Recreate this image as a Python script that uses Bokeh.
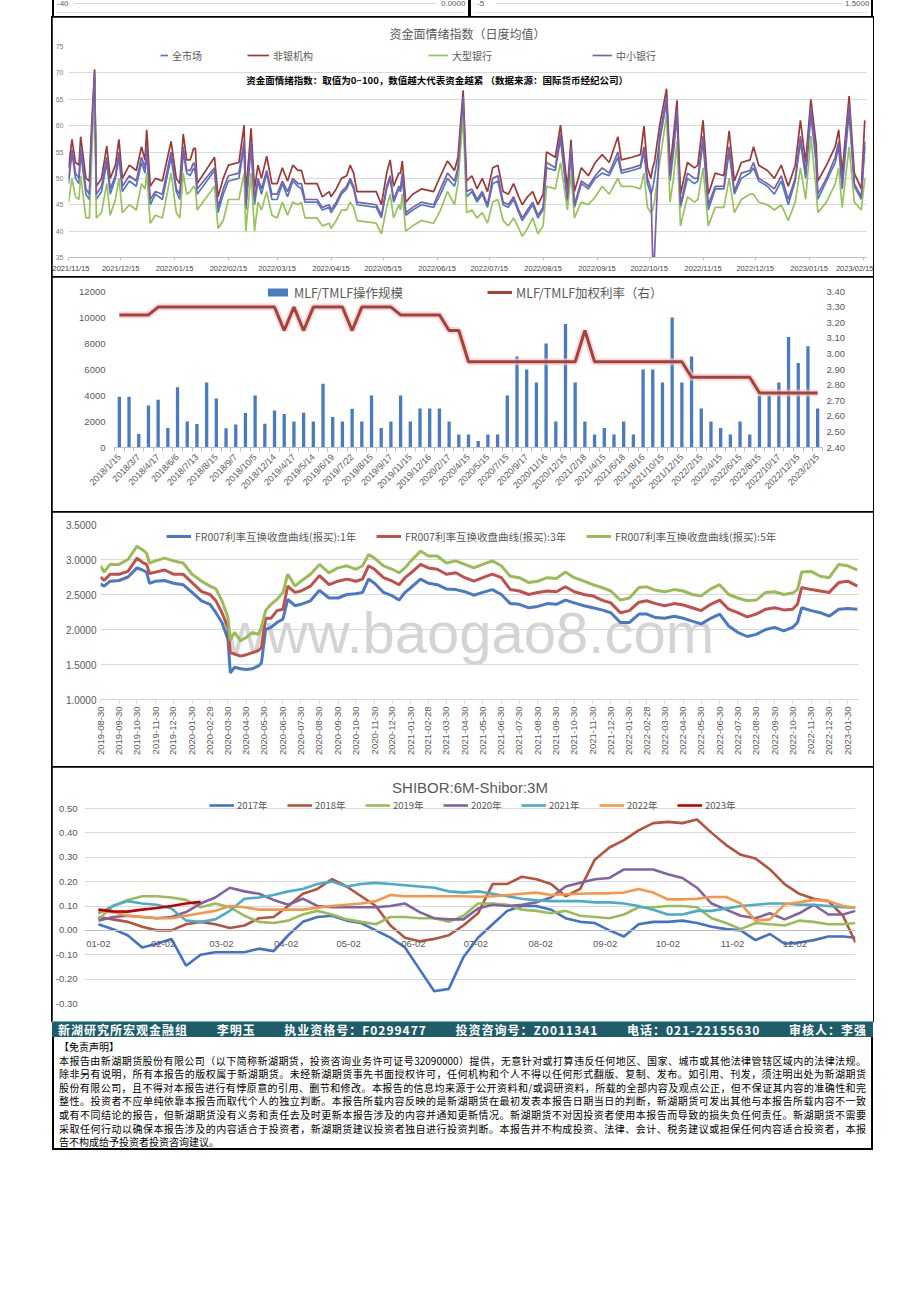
import math
import pandas as pd
from bokeh.plotting import figure
from bokeh.models import (Range1d, LinearAxis, FixedTicker, Legend, LegendItem, Label, Div, Spacer,
                          DatetimeTickFormatter, NumeralTickFormatter)
from bokeh.layouts import column, row
from bokeh.embed import file_html
from bokeh.resources import INLINE

# ---------------------------------------------------------------- panel 1 data
SENT_TITLE = "资金面情绪指数（日度均值）"
SENT_NOTE = "资金面情绪指数：取值为0~100，数值越大代表资金越紧 （数据来源：国际货币经纪公司）"
SENT_NAMES = ["全市场", "非银机构", "大型银行", "中小银行"]
SENT_START = "2021-11-15"
SENT_DAY = [0, 2, 4, 6, 7, 10, 12, 13, 15, 16,
            19, 22, 24, 27, 29, 31, 35, 39, 42, 44,
            45, 47, 50, 54, 59, 62, 64, 66, 68, 70,
            72, 73, 74, 84, 86, 89, 92, 98, 101, 102,
            105, 107, 109, 111, 114, 117, 120, 123, 126, 129,
            132, 134, 136, 143, 146, 150, 151, 154, 157, 160,
            162, 164, 166, 177, 180, 183, 185, 187, 190, 191,
            192, 194, 198, 203, 210, 214, 218, 222, 224, 227,
            229, 232, 235, 238, 241, 244, 247, 250, 253, 256,
            259, 261, 264, 267, 270, 273, 275, 280, 283, 287,
            289, 291, 295, 299, 303, 307, 311, 316, 318, 324,
            329, 331, 333, 335, 336, 337, 340, 344, 346, 348,
            350, 352, 356, 360, 362, 365, 368, 372, 377, 380,
            383, 387, 392, 394, 397, 402, 406, 410, 414, 418,
            421, 424, 427, 430, 431, 436, 441, 443, 445, 449,
            452, 456, 458]
SENT_NONBANK = [52, 57.4, 53, 52.5, 57.9, 50, 49.5, 58, 70.7, 48.5,
                50, 56.1, 50, 52.5, 57.4, 50, 52.5, 51.5, 56, 53.5,
                59.2, 48.5, 50, 49.5, 57, 50, 49, 58.4, 53.5, 53.5,
                55.7, 55.7, 49, 54, 46.5, 50, 52.5, 53, 60.1, 47,
                59.5, 48, 52.5, 50, 54.2, 49, 49, 52, 49.5, 52.5,
                51.5, 51.5, 49, 49, 46.5, 47.5, 46.5, 48, 50, 50.5,
                52.5, 51, 47.5, 47.5, 45, 51, 53.5, 48.5, 51, 51,
                53.3, 45.5, 47, 48, 47.5, 50.5, 53.3, 51.5, 54, 66.7,
                49.5, 50.5, 48, 50, 47.5, 52, 52.5, 47.5, 47, 49,
                46.5, 45, 46.5, 47.5, 45, 47, 55, 54, 60.1, 48,
                57.3, 47.5, 52, 50.5, 53, 54.5, 53, 57.9, 53.5, 54,
                54.5, 59.9, 52, 50, 52, 53, 60, 67, 52, 58,
                64.8, 47, 53, 52, 52.5, 61, 47, 51, 50.5, 59,
                49.5, 53, 53.5, 56, 52.5, 51.5, 50, 52.5, 48.5, 52.5,
                61, 53, 65, 56.6, 49.5, 52.5, 56, 59.2, 51, 65.6,
                51, 48, 61]
SENT_ALL = [49, 55, 50, 49, 55, 47, 46, 55, 69, 46,
            47.5, 53, 47, 50, 54, 47.5, 49.5, 48.5, 53, 51,
            55, 45, 47, 46, 54, 47.5, 46, 55, 51, 50.5,
            52, 51, 47, 51.5, 43.5, 47, 49.5, 50, 56, 44,
            56, 45, 49.5, 47, 51, 46, 46, 49, 46.5, 49.5,
            48.5, 48, 45.5, 45.5, 44, 44.5, 43.5, 45, 47, 48,
            49.5, 48, 45, 44.5, 42.5, 48, 50, 45.5, 48, 47.5,
            50.5, 43, 44, 45, 44.5, 47, 50, 48.5, 51, 64,
            46.5, 47.5, 45.5, 47, 44.5, 49, 49.5, 45, 44.5, 46,
            43.5, 42, 43.5, 45, 42.5, 44, 52, 51.5, 57.5, 45.5,
            55, 44.5, 49, 48, 50, 51, 50.5, 54, 51, 51.5,
            52, 55, 49, 47, 48, 50, 57, 64.5, 49.5, 55,
            62, 44.5, 50, 49, 49.5, 57, 44, 48, 48, 55,
            47, 50, 51, 52, 49.5, 48.5, 47, 49.5, 45, 49.5,
            57, 50, 62, 53, 46, 49.5, 53, 56, 48, 62.5,
            48.5, 46, 56]
SENT_SMALL = [50, 55.5, 51, 50, 56, 48, 47, 56, 70, 47,
              48.5, 54, 48, 50.5, 55, 48.5, 50.5, 49.5, 54, 52,
              56, 46, 47.5, 47, 55, 48, 47, 56, 51.5, 51.5,
              53, 52, 48, 52, 44.5, 48, 50.5, 51, 57, 45,
              57, 46, 50, 48, 51.5, 47, 47, 49.5, 47.5, 50,
              49, 49, 46, 46, 44.5, 45, 44, 45.5, 47.5, 48.5,
              50, 48.5, 45.5, 45, 43, 48.5, 50.5, 46, 48.5, 48,
              51, 43.5, 44.5, 45.5, 45, 48, 51, 49.5, 52, 65.5,
              47.5, 48, 46, 47.5, 45, 50, 50.5, 45.5, 45, 46.5,
              44, 42.5, 44, 45.5, 43, 44.5, 53, 52, 58.5, 46,
              56, 45, 49.5, 48.5, 50.5, 52, 51, 55, 51.5, 52,
              52.5, 56, 50, 48, 35, 35, 58, 65.5, 50.5, 56,
              63, 45, 51, 50, 50, 58, 45, 48.5, 48.5, 56,
              47.5, 51, 51.5, 53, 50, 49, 48, 50.5, 46, 50,
              58, 51, 63.5, 54, 47, 50, 54, 57, 49, 64,
              49, 46.5, 57]
SENT_LARGE = [45.5, 50, 46.5, 46, 50.5, 42.5, 42.5, 51, 68, 42.5,
              43.5, 49, 43, 46, 50, 43.5, 45, 44, 49, 48,
              51, 41.5, 43, 42.5, 51, 43.5, 42.5, 51, 47, 47.5,
              48.5, 48, 44, 48.5, 40.5, 42, 46, 46, 51, 40,
              51, 40, 45.5, 44, 47.5, 43, 42.5, 45.5, 43, 45.5,
              45, 45.5, 42.5, 42.5, 41, 41.5, 40.5, 42, 44, 44,
              45.5, 44.5, 42, 41.5, 39.5, 44.5, 47, 42.5, 45, 44,
              47, 40, 41, 42, 41.5, 44, 47.5, 45, 49, 62,
              43.5, 44, 42.5, 43.5, 41.5, 45.5, 46, 42, 41, 42.5,
              40.5, 39, 40.5, 42.5, 39.5, 41, 48.5, 48, 53, 44,
              51, 42.5, 45.5, 45, 46.5, 48.5, 47, 50, 48.5, 48.5,
              48, 51, 44.5, 43.5, 44, 45.5, 53, 62, 45.5, 50,
              57, 41, 46.5, 45.5, 46, 52, 41, 44.5, 44.5, 50,
              43.5, 46, 47, 47, 45.5, 45, 44, 45, 42, 45.5,
              52, 46, 58, 48, 43.5, 45.5, 49, 52, 44.5, 56,
              45.5, 44, 50]
SENT_XTICKS = ["2021/11/15", "2021/12/15", "2022/01/15", "2022/02/15", "2022/03/15", "2022/04/15",
               "2022/05/15", "2022/06/15", "2022/07/15", "2022/08/15", "2022/09/15", "2022/10/15",
               "2022/11/15", "2022/12/15", "2023/01/15", "2023/02/15"]
SENT_YTICKS = [35, 40, 45, 50, 55, 60, 65, 70, 75]

# ---------------------------------------------------------------- panel 2 data
MLF_NAMES = ["MLF/TMLF操作规模", "MLF/TMLF加权利率（右）"]
MLF_DATES = ["2018/1/15", "2018/2/12", "2018/3/7", "2018/3/15", "2018/4/17", "2018/5/17", "2018/6/6",
             "2018/6/19", "2018/7/13", "2018/8/7", "2018/8/15", "2018/8/22", "2018/9/7", "2018/9/19",
             "2018/10/5", "2018/11/9", "2018/12/14", "2019/1/23", "2019/4/17", "2019/4/24", "2019/5/14",
             "2019/6/6", "2019/6/19", "2019/7/15", "2019/7/22", "2019/8/5", "2019/8/15", "2019/9/5",
             "2019/9/17", "2019/11/5", "2019/11/15", "2019/12/2", "2019/12/16", "2020/1/15", "2020/2/17",
             "2020/3/16", "2020/4/15", "2020/4/24", "2020/5/15", "2020/6/15", "2020/7/15", "2020/8/17",
             "2020/9/17", "2020/10/15", "2020/11/16", "2020/11/30", "2020/12/15", "2021/1/15",
             "2021/2/18", "2021/3/15", "2021/4/15", "2021/5/17", "2021/6/18", "2021/7/15", "2021/8/16",
             "2021/9/15", "2021/10/15", "2021/11/15", "2021/12/15", "2022/1/17", "2022/2/15",
             "2022/3/15", "2022/4/15", "2022/5/16", "2022/6/15", "2022/7/15", "2022/8/15", "2022/9/15",
             "2022/10/17", "2022/11/15", "2022/12/15", "2023/1/16", "2023/2/15"]
MLF_VOLUME = [3900, 3900, 1040, 3225, 3675, 1500, 4630, 2000, 1800, 5000, 3765, 1490, 1765, 2650,
              4000, 1835, 2845, 2575, 2000, 2674, 2000, 4900, 2350, 2000, 2977, 2000, 4000, 1500,
              2000, 4000, 2000, 3000, 3000, 3000, 2000, 1000, 1000, 500, 1000, 1000, 4000, 7000,
              6000, 5000, 8000, 2000, 9500, 5000, 2000, 1000, 1500, 1000, 2000, 1000, 6000, 6000,
              5000, 10000, 5000, 7000, 3000, 2000, 1500, 1000, 2000, 1000, 4000, 4000, 5000, 8500,
              6500, 7790, 3000]
MLF_RATE = [3.25, 3.25, 3.25, 3.25, 3.30, 3.30, 3.30, 3.30, 3.30, 3.30, 3.30, 3.30, 3.30, 3.30,
            3.30, 3.30, 3.30, 3.15, 3.30, 3.15, 3.30, 3.30, 3.30, 3.30, 3.15, 3.30, 3.30, 3.30,
            3.30, 3.25, 3.25, 3.25, 3.25, 3.25, 3.15, 3.15, 2.95, 2.95, 2.95, 2.95, 2.95, 2.95,
            2.95, 2.95, 2.95, 2.95, 2.95, 2.95, 3.15, 2.95, 2.95, 2.95, 2.95, 2.95, 2.95, 2.95,
            2.95, 2.95, 2.95, 2.85, 2.85, 2.85, 2.85, 2.85, 2.85, 2.85, 2.75, 2.75, 2.75, 2.75,
            2.75, 2.75, 2.75]
MLF_LEFT_TICKS = [0, 2000, 4000, 6000, 8000, 10000, 12000]
MLF_RIGHT_TICKS = [2.40, 2.50, 2.60, 2.70, 2.80, 2.90, 3.00, 3.10, 3.20, 3.30, 3.40]

# ---------------------------------------------------------------- panel 3 data
FR_NAMES = ["FR007利率互换收盘曲线(报买):1年", "FR007利率互换收盘曲线(报买):3年", "FR007利率互换收盘曲线(报买):5年"]
FR_DATES = ["2019-08-30", "2019-09-05", "2019-09-15", "2019-09-30", "2019-10-15", "2019-10-30",
            "2019-11-08", "2019-11-15", "2019-11-20", "2019-11-30", "2019-12-15", "2019-12-30",
            "2020-01-15", "2020-01-30", "2020-02-15", "2020-02-29", "2020-03-10", "2020-03-20",
            "2020-03-30", "2020-04-03", "2020-04-10", "2020-04-20", "2020-04-30", "2020-05-10",
            "2020-05-20", "2020-05-25", "2020-06-01", "2020-06-10", "2020-06-20", "2020-06-30",
            "2020-07-08", "2020-07-20", "2020-07-30", "2020-08-15", "2020-08-30", "2020-09-15",
            "2020-09-30", "2020-10-15", "2020-10-30", "2020-11-10", "2020-11-20", "2020-11-30",
            "2020-12-15", "2020-12-30",
            "2021-01-10", "2021-01-20", "2021-01-30", "2021-02-15", "2021-02-28", "2021-03-15",
            "2021-03-30", "2021-04-15", "2021-04-30", "2021-05-15", "2021-05-30", "2021-06-15",
            "2021-06-30", "2021-07-15", "2021-07-30", "2021-08-15", "2021-08-30", "2021-09-15",
            "2021-09-30", "2021-10-15", "2021-10-30", "2021-11-15", "2021-11-30", "2021-12-15",
            "2021-12-30",
            "2022-01-15", "2022-01-30", "2022-02-15", "2022-02-28", "2022-03-15", "2022-03-30",
            "2022-04-15", "2022-04-30", "2022-05-15", "2022-05-30", "2022-06-15", "2022-06-30",
            "2022-07-15", "2022-07-30", "2022-08-15", "2022-08-30", "2022-09-15", "2022-09-30",
            "2022-10-15", "2022-10-30", "2022-11-07", "2022-11-14", "2022-11-30", "2022-12-15",
            "2022-12-30", "2023-01-15", "2023-01-30", "2023-02-15"]
FR_1Y = [2.65, 2.62, 2.69, 2.70, 2.75, 2.88, 2.85, 2.82, 2.66, 2.69, 2.70, 2.66,
         2.64, 2.53, 2.41, 2.36, 2.24, 2.10, 1.86, 1.38, 1.46, 1.44, 1.43, 1.44, 1.48, 1.52,
         2.00, 2.03, 2.10, 2.15, 2.43, 2.34, 2.36, 2.41, 2.56, 2.45, 2.45, 2.50, 2.51, 2.53,
         2.72, 2.66, 2.53, 2.48,
         2.42, 2.53, 2.60, 2.72, 2.66, 2.64, 2.58, 2.57, 2.54, 2.49, 2.53, 2.57, 2.50, 2.37,
         2.36, 2.31, 2.33, 2.37, 2.36, 2.42, 2.38, 2.34, 2.31, 2.28, 2.24,
         2.10, 2.10, 2.22, 2.22, 2.17, 2.16, 2.19, 2.16, 2.12, 2.08, 2.16, 2.22, 2.05, 1.96,
         1.90, 1.93, 2.00, 2.03, 1.98, 2.03, 2.10, 2.31, 2.27, 2.24, 2.19,
         2.29, 2.30, 2.29]
FR_3Y = [2.75, 2.70, 2.79, 2.79, 2.83, 3.02, 2.96, 2.93, 2.80, 2.82, 2.85, 2.79,
         2.79, 2.67, 2.54, 2.50, 2.41, 2.24, 2.03, 1.67, 1.65, 1.62, 1.64, 1.67, 1.70, 1.74,
         2.16, 2.16, 2.27, 2.29, 2.62, 2.53, 2.55, 2.62, 2.77, 2.64, 2.69, 2.72, 2.69, 2.72,
         2.91, 2.86, 2.74, 2.69,
         2.64, 2.74, 2.81, 2.93, 2.88, 2.86, 2.79, 2.81, 2.74, 2.69, 2.74, 2.79, 2.74, 2.57,
         2.55, 2.50, 2.53, 2.55, 2.54, 2.61, 2.54, 2.50, 2.48, 2.42, 2.38,
         2.24, 2.27, 2.39, 2.41, 2.37, 2.34, 2.37, 2.35, 2.31, 2.27, 2.36, 2.42, 2.29, 2.24,
         2.18, 2.22, 2.29, 2.31, 2.28, 2.29, 2.36, 2.60, 2.57, 2.55, 2.53,
         2.67, 2.69, 2.62]
FR_5Y = [2.91, 2.82, 2.93, 2.93, 3.00, 3.19, 3.14, 3.09, 2.95, 2.98, 3.02, 2.98,
         2.95, 2.79, 2.69, 2.62, 2.58, 2.41, 2.17, 1.84, 1.96, 1.84, 1.89, 1.96, 1.93, 2.03,
         2.27, 2.36, 2.43, 2.53, 2.79, 2.62, 2.69, 2.79, 2.93, 2.81, 2.88, 2.91, 2.86, 2.91,
         3.07, 3.02, 2.91, 2.86,
         2.81, 2.88, 2.98, 3.12, 3.05, 3.05, 2.95, 2.98, 2.93, 2.88, 2.93, 2.98, 2.91, 2.76,
         2.74, 2.67, 2.69, 2.74, 2.73, 2.82, 2.74, 2.69, 2.64, 2.60, 2.55,
         2.42, 2.45, 2.60, 2.61, 2.56, 2.54, 2.57, 2.55, 2.50, 2.48, 2.58, 2.64, 2.50, 2.45,
         2.41, 2.42, 2.53, 2.54, 2.50, 2.52, 2.57, 2.82, 2.83, 2.76, 2.74,
         2.93, 2.91, 2.85]
FR_XTICKS = ["2019-08-30", "2019-09-30", "2019-10-30", "2019-11-30", "2019-12-30", "2020-01-30",
             "2020-02-29", "2020-03-30", "2020-04-30", "2020-05-30", "2020-06-30", "2020-07-30",
             "2020-08-30", "2020-09-30", "2020-10-30", "2020-11-30", "2020-12-30", "2021-01-30",
             "2021-02-28", "2021-03-30", "2021-04-30", "2021-05-30", "2021-06-30", "2021-07-30",
             "2021-08-30", "2021-09-30", "2021-10-30", "2021-11-30", "2021-12-30", "2022-01-30",
             "2022-02-28", "2022-03-30", "2022-04-30", "2022-05-30", "2022-06-30", "2022-07-30",
             "2022-08-30", "2022-09-30", "2022-10-30", "2022-11-30", "2022-12-30", "2023-01-30"]
FR_YTICKS = [1.0, 1.5, 2.0, 2.5, 3.0, 3.5]

# ---------------------------------------------------------------- panel 4 data
SHIBOR_TITLE = "SHIBOR:6M-Shibor:3M"
SHIBOR_DAYS = [1, 8, 15, 22, 29, 36, 43, 50, 57, 64, 71, 78, 85, 92, 99, 106, 113, 120, 127, 134,
               141, 148, 155, 162, 169, 176, 183, 190, 197, 204, 211, 218, 225, 232, 239, 246, 253,
               260, 267, 274, 281, 288, 295, 302, 309, 316, 323, 330, 337, 344, 351, 358, 364]
SHIBOR_2017 = [0.025, 0.005, -0.02, -0.07, -0.055, -0.035, -0.145, -0.10, -0.09, -0.09, -0.09, -0.075,
               -0.085, -0.02, 0.035, 0.055, 0.06, 0.04, 0.03, 0.0, -0.03, -0.07, -0.16, -0.25, -0.24,
               -0.11, -0.03, 0.025, 0.08, 0.10, 0.10, 0.085, 0.05, 0.035, 0.03, 0.0, -0.025, 0.025,
               0.035, 0.035, 0.04, 0.03, 0.015, 0.005, 0.0, -0.04, -0.015, -0.055, -0.05, -0.04,
               -0.025, -0.025, -0.03]
SHIBOR_2018 = [0.055, 0.045, 0.035, 0.015, 0.0, 0.0, 0.025, 0.035, 0.025, 0.01, 0.02, 0.05, 0.055,
               0.10, 0.15, 0.17, 0.21, 0.18, 0.14, 0.10, 0.02, -0.03, -0.045, -0.035, -0.02,
               0.02, 0.07, 0.19, 0.19, 0.22, 0.21, 0.19, 0.14, 0.17, 0.29, 0.34, 0.37, 0.41, 0.44,
               0.445, 0.44, 0.455, 0.40, 0.35, 0.31, 0.295, 0.25, 0.19, 0.15, 0.13, 0.12, 0.06, -0.05]
SHIBOR_2019 = [0.045, 0.10, 0.125, 0.14, 0.14, 0.135, 0.125, 0.095, 0.11, 0.095, 0.06, 0.035, 0.03,
               0.04, 0.065, 0.08, 0.065, 0.045, 0.035, 0.025, 0.055, 0.055, 0.05, 0.05, 0.035,
               0.06, 0.11, 0.11, 0.105, 0.085, 0.08, 0.07, 0.08, 0.06, 0.055, 0.05, 0.065, 0.095,
               0.095, 0.10, 0.10, 0.095, 0.05, 0.03, 0.005, 0.03, 0.025, 0.02, 0.04, 0.035, 0.025,
               0.025, 0.03]
SHIBOR_2020 = [0.04, 0.055, 0.06, 0.055, 0.05, 0.055, 0.075, 0.11, 0.135, 0.175, 0.16, 0.15, 0.125,
               0.105, 0.13, 0.10, 0.095, 0.095, 0.095, 0.095, 0.10, 0.11, 0.075, 0.05, 0.045,
               0.045, 0.09, 0.105, 0.10, 0.105, 0.115, 0.135, 0.18, 0.195, 0.21, 0.215, 0.25, 0.25,
               0.25, 0.23, 0.215, 0.175, 0.11, 0.085, 0.06, 0.05, 0.07, 0.045, 0.07, 0.105, 0.065,
               0.065, 0.08]
SHIBOR_2021 = [0.07, 0.10, 0.12, 0.11, 0.105, 0.09, 0.04, 0.035, 0.045, 0.08, 0.13, 0.135, 0.145,
               0.16, 0.17, 0.19, 0.20, 0.18, 0.19, 0.195, 0.19, 0.185, 0.18, 0.175, 0.16,
               0.155, 0.16, 0.15, 0.14, 0.13, 0.123, 0.12, 0.12, 0.12, 0.115, 0.115, 0.11, 0.10,
               0.085, 0.065, 0.065, 0.08, 0.08, 0.09, 0.10, 0.105, 0.11, 0.11, 0.105, 0.105, 0.10,
               0.095, 0.093]
SHIBOR_2022 = [0.08, 0.075, 0.06, 0.055, 0.05, 0.05, 0.06, 0.07, 0.08, 0.10, 0.095, 0.085, 0.085,
               0.085, 0.085, 0.093, 0.10, 0.105, 0.11, 0.12, 0.145, 0.14, 0.14, 0.14, 0.14,
               0.14, 0.138, 0.14, 0.145, 0.15, 0.155, 0.145, 0.148, 0.15, 0.152, 0.152, 0.155, 0.17,
               0.155, 0.127, 0.127, 0.13, 0.137, 0.137, 0.11, 0.04, 0.045, 0.107, 0.115, 0.125,
               0.12, 0.10, 0.093]
SHIBOR_2023_DAYS = [1, 8, 15, 22, 29, 36, 43, 50]
SHIBOR_2023 = [0.085, 0.078, 0.077, 0.085, 0.092, 0.10, 0.11, 0.117]
SHIBOR_YEARS = ["2017年", "2018年", "2019年", "2020年", "2021年", "2022年", "2023年"]
SHIBOR_TICK_DAYS = [1, 32, 60, 91, 121, 152, 182, 213, 244, 274, 305, 335]
SHIBOR_TICK_LABELS = ["01-02", "02-02", "03-02", "04-02", "05-02", "06-02", "07-02", "08-02",
                      "09-02", "10-02", "11-02", "12-02"]
SHIBOR_YTICKS = [-0.3, -0.2, -0.1, 0.0, 0.1, 0.2, 0.3, 0.4, 0.5]

TOP_STRIP_LABELS = ["-40", "0.0000", "-5", "1.5000"]
FOOTER_ITEMS = ["新湖研究所宏观金融组", "李明玉", "执业资格号：F0299477", "投资咨询号：Z0011341",
                "电话：021-22155630", "审核人：李强"]
DISCLAIMER_HEAD = "【免责声明】"
DISCLAIMER_LINES = [
    "本报告由新湖期货股份有限公司（以下简称新湖期货，投资咨询业务许可证号32090000）提供，无意针对或打算违反任何地区、国家、城市或其他法律管辖区域内的法律法规。",
    "除非另有说明，所有本报告的版权属于新湖期货。未经新湖期货事先书面授权许可，任何机构和个人不得以任何形式翻版、复制、发布。如引用、刊发，须注明出处为新湖期货",
    "股份有限公司，且不得对本报告进行有悖原意的引用、删节和修改。本报告的信息均来源于公开资料和/或调研资料，所载的全部内容及观点公正，但不保证其内容的准确性和完",
    "整性。投资者不应单纯依靠本报告而取代个人的独立判断。本报告所载内容反映的是新湖期货在最初发表本报告日期当日的判断，新湖期货可发出其他与本报告所载内容不一致",
    "或有不同结论的报告，但新湖期货没有义务和责任去及时更新本报告涉及的内容并通知更新情况。新湖期货不对因投资者使用本报告而导致的损失负任何责任。新湖期货不需要",
    "采取任何行动以确保本报告涉及的内容适合于投资者，新湖期货建议投资者独自进行投资判断。本报告并不构成投资、法律、会计、税务建议或担保任何内容适合投资者，本报",
    "告不构成给予投资者投资咨询建议。",
]

# ---------------------------------------------------------------- helpers
CN = "Noto Sans CJK SC"
NUM = "Liberation Sans"
TXT = "#595959"
GRID = "#D9D9D9"
AXC = "#BFBFBF"
FW = 821   # panel width (page x 52 .. 873)


def ms(s):
    return pd.Timestamp(s).value / 1e6


def panel(h, xr, yr, mbl, mbr, mbt, mbb, xtype="linear"):
    p = figure(width=FW, height=h, x_range=xr, y_range=yr, x_axis_type=xtype,
               output_backend="svg", toolbar_location=None,
               min_border_left=mbl, min_border_right=mbr, min_border_top=mbt, min_border_bottom=mbb)
    p.outline_line_color = None
    p.styles = {"outline": "2px solid #000000", "outline-offset": "-1px"}
    for ax in p.xaxis + p.yaxis:
        ax.minor_tick_line_color = None
        ax.major_label_text_font = NUM
        ax.major_label_text_color = TXT
    for ax in p.yaxis:
        ax.major_tick_out = 0
        ax.major_tick_in = 0
    return p


def legend(p, pairs, frame_left, frame_bottom, gx, cy, size, gw, lw, gh=10, h=13, standoff=4):
    items = [LegendItem(label=lab, renderers=[r]) for lab, r in pairs]
    lg = Legend(items=items, orientation="horizontal",
                location=(gx - frame_left, frame_bottom - cy - h / 2),
                glyph_width=gw, glyph_height=gh, label_width=lw, label_height=h,
                label_standoff=standoff, spacing=0, padding=0, margin=0,
                border_line_color=None, background_fill_alpha=0,
                label_text_font=CN, label_text_font_size=size, label_text_color=TXT)
    p.add_layout(lg)
    return lg


def dt_fmt(f):
    return DatetimeTickFormatter(days=f, months=f, years=f, hours=f, hourmin=f, minutes=f,
                                 minsec=f, seconds=f, milliseconds=f, microseconds=f)


# ---------------------------------------------------------------- panel 1  (page y 17..277)
F1L, F1B = 66, 257
p1 = panel(260, Range1d(ms("2021-11-15"), ms("2023-02-17")), Range1d(35, 75), 14, 7, 29, 20,
           "datetime")
sx = pd.Timestamp(SENT_START) + pd.to_timedelta(SENT_DAY, unit="D")
r_all = p1.line(sx, SENT_ALL, line_color="#4F7BC4", line_width=1.7)
r_nb = p1.line(sx, SENT_NONBANK, line_color="#9A3A36", line_width=1.7)
r_lg = p1.line(sx, SENT_LARGE, line_color="#98C25A", line_width=1.7)
r_sm = p1.line(sx, SENT_SMALL, line_color="#7A5FAA", line_width=1.7)
p1.title.text = SENT_TITLE
p1.title.align = "center"
p1.title.text_font = CN
p1.title.text_font_size = "12px"
p1.title.text_font_style = "normal"
p1.title.text_color = TXT
p1.title.standoff = 10
p1.yaxis.ticker = FixedTicker(ticks=SENT_YTICKS)
p1.yaxis.axis_line_color = None
p1.yaxis.major_tick_line_color = None
p1.yaxis.major_label_text_font_size = "7px"
p1.yaxis.major_label_text_color = "#808080"
p1.yaxis.major_label_standoff = 5
p1.ygrid.ticker = FixedTicker(ticks=SENT_YTICKS)
p1.ygrid.grid_line_color = GRID
p1.xgrid.visible = False
p1.xaxis.ticker = FixedTicker(ticks=[ms(t) for t in SENT_XTICKS])
p1.xaxis.formatter = dt_fmt("%Y/%m/%d")
p1.xaxis.axis_line_color = AXC
p1.xaxis.major_tick_line_color = AXC
p1.xaxis.major_tick_out = 3
p1.xaxis.major_tick_in = 0
p1.xaxis.major_label_text_font_size = "7.5px"
p1.xaxis.major_label_text_color = "#404040"
p1.xaxis.major_label_standoff = 3
p1.add_layout(Label(x=ms("2022-06-15"), y=68.6, text=SENT_NOTE, text_align="center",
                    text_baseline="middle", text_font=CN, text_font_size="9.5px",
                    text_font_style="bold", text_color="#000000"))
legend(p1, [(SENT_NAMES[0], r_all)], F1L, F1B, 158, 56, "10px", 8, 30)
legend(p1, [(SENT_NAMES[1], r_nb)], F1L, F1B, 245, 56, "10px", 22, 40)
legend(p1, [(SENT_NAMES[2], r_lg)], F1L, F1B, 426, 56, "10px", 20, 40)
legend(p1, [(SENT_NAMES[3], r_sm)], F1L, F1B, 590, 56, "10px", 20, 40)

# ---------------------------------------------------------------- panel 2  (page y 277..512)
# tick 12000 / 3.40 sits at page y 291, 0 / 2.40 at y 447; frame extends 7px above for the legend
F2L, F2B, F2_TICKTOP, F2_TOP = 114, 447, 291, 284
ext2 = (F2B - F2_TOP) / (F2B - F2_TICKTOP)
p2 = panel(235, Range1d(-0.5, len(MLF_DATES) - 0.5), Range1d(0, 12000 * ext2), 62, 51, 7, 65)
p2.extra_y_ranges = {"rate": Range1d(2.4, 2.4 + 1.0 * ext2)}
idx = list(range(len(MLF_DATES)))
r_bar = p2.vbar(x=idx, top=MLF_VOLUME, width=0.34, fill_color="#4A7BBE", line_color=None)
p2.line(idx, MLF_RATE, y_range_name="rate", line_color="#F0CACA", line_width=7, line_alpha=0.7)
r_rate = p2.line(idx, MLF_RATE, y_range_name="rate", line_color="#A6403B", line_width=3)
p2.xgrid.visible = False
p2.ygrid.visible = False
p2.yaxis.ticker = FixedTicker(ticks=MLF_LEFT_TICKS)
p2.yaxis.axis_line_color = None
p2.yaxis.major_tick_line_color = None
p2.yaxis.major_label_text_font_size = "9.5px"
p2.yaxis.major_label_standoff = 9
rax = LinearAxis(y_range_name="rate", ticker=FixedTicker(ticks=MLF_RIGHT_TICKS),
                 formatter=NumeralTickFormatter(format="0.00"), axis_line_color=None,
                 major_tick_line_color=None, minor_tick_line_color=None,
                 major_tick_out=0, major_tick_in=0,
                 major_label_text_font=NUM, major_label_text_font_size="9.5px",
                 major_label_text_color=TXT, major_label_standoff=4)
p2.add_layout(rax, "right")
lab_idx = idx[::2]
p2.xaxis.ticker = FixedTicker(ticks=lab_idx, minor_ticks=[i - 0.5 for i in range(len(idx) + 1)])
p2.xaxis.major_label_overrides = {i: MLF_DATES[i] for i in lab_idx}
p2.xaxis.major_label_orientation = math.pi / 4
p2.xaxis.major_tick_line_color = None
p2.xaxis.minor_tick_line_color = AXC
p2.xaxis.minor_tick_out = 4
p2.xaxis.minor_tick_in = 0
p2.xaxis.axis_line_color = AXC
p2.xaxis.major_label_text_font_size = "9px"
p2.xaxis.major_label_standoff = 2
legend(p2, [(MLF_NAMES[0], r_bar), (MLF_NAMES[1], r_rate)], F2L, F2B, 265, 294, "12.5px",
       25, 193, gh=10, h=15)

# ---------------------------------------------------------------- panel 3  (page y 512..767)
F3L, F3B = 100, 699
p3 = panel(255, Range1d(ms("2019-08-30"), ms("2023-02-17")), Range1d(1.0, 3.5), 48, 15, 12, 68,
           "datetime")
fx = pd.to_datetime(FR_DATES)
p3.add_layout(Label(x=ms("2021-05-07"), y=1.96, text="www.baogao8.com", text_align="center",
                    text_baseline="middle", text_font=NUM, text_font_size="58px",
                    text_color="#D4D4D4", level="underlay"))
r1 = p3.line(fx, FR_1Y, line_color="#4A78C2", line_width=3)
r3 = p3.line(fx, FR_3Y, line_color="#C0504D", line_width=3)
r5 = p3.line(fx, FR_5Y, line_color="#9BBB59", line_width=3)
p3.yaxis.ticker = FixedTicker(ticks=FR_YTICKS)
p3.yaxis.formatter = NumeralTickFormatter(format="0.0000")
p3.yaxis.axis_line_color = None
p3.yaxis.major_tick_line_color = None
p3.yaxis.major_label_text_font_size = "10px"
p3.yaxis.major_label_standoff = 4
p3.ygrid.ticker = FixedTicker(ticks=FR_YTICKS)
p3.ygrid.grid_line_color = GRID
p3.xgrid.visible = False
p3.xaxis.ticker = FixedTicker(ticks=[ms(t) for t in FR_XTICKS])
p3.xaxis.formatter = dt_fmt("%Y-%m-%d")
p3.xaxis.major_label_orientation = math.pi / 2
p3.xaxis.axis_line_color = GRID
p3.xaxis.major_tick_line_color = GRID
p3.xaxis.major_tick_out = 4
p3.xaxis.major_tick_in = 0
p3.xaxis.major_label_text_font_size = "9.5px"
p3.xaxis.major_label_standoff = 3
legend(p3, [(FR_NAMES[0], r1), (FR_NAMES[1], r3), (FR_NAMES[2], r5)], F3L, F3B, 166, 537,
       "10.5px", 25, 181, gh=10, h=13)

# ---------------------------------------------------------------- panel 4  (page y 767..1021)
# 0.50 at page y 808, -0.30 at 1003; day 1 at x 94, day 364 at x 855.
F4L, F4R, F4B, F4_TOP, F4_TICKTOP = 80, 855, 1003, 798, 808
px_day = (855 - 94) / (364 - 1)
ext4 = (F4B - F4_TOP) / (F4B - F4_TICKTOP)
p4 = panel(254, Range1d(1 - (94 - F4L) / px_day, 364), Range1d(-0.3, -0.3 + 0.8 * ext4),
           F4L - 52, 873 - F4R, F4_TOP - 767, 1021 - F4B)
colors4 = ["#4472C4", "#B4533F", "#9BBB59", "#8064A2", "#4BACC6", "#F79646", "#C00000"]
series4 = [SHIBOR_2017, SHIBOR_2018, SHIBOR_2019, SHIBOR_2020, SHIBOR_2021, SHIBOR_2022]
rs4 = []
for vals, c in zip(series4, colors4[:6]):
    rs4.append(p4.line(SHIBOR_DAYS, vals, line_color=c, line_width=2.6))
rs4.append(p4.line(SHIBOR_2023_DAYS, SHIBOR_2023, line_color=colors4[6], line_width=2.6))
p4.title.text = SHIBOR_TITLE
p4.title.align = "center"
p4.title.text_font = NUM
p4.title.text_font_size = "15px"
p4.title.text_font_style = "normal"
p4.title.text_color = TXT
p4.title.standoff = 6
p4.yaxis.ticker = FixedTicker(ticks=SHIBOR_YTICKS)
p4.yaxis.formatter = NumeralTickFormatter(format="0.00")
p4.yaxis.axis_line_color = None
p4.yaxis.major_tick_line_color = None
p4.yaxis.major_label_text_font_size = "9.5px"
p4.yaxis.major_label_standoff = 7
p4.ygrid.ticker = FixedTicker(ticks=SHIBOR_YTICKS)
p4.ygrid.grid_line_color = GRID
p4.xgrid.visible = False
p4.xaxis.fixed_location = 0
p4.xaxis.ticker = FixedTicker(ticks=SHIBOR_TICK_DAYS)
p4.xaxis.major_label_overrides = dict(zip(SHIBOR_TICK_DAYS, SHIBOR_TICK_LABELS))
p4.xaxis.axis_line_color = AXC
p4.xaxis.major_tick_line_color = None
p4.xaxis.major_label_text_font_size = "9.5px"
p4.xaxis.major_label_standoff = 5
legend(p4, list(zip(SHIBOR_YEARS, rs4)), F4L, F4B, 205, 806, "9.5px", 25, 50, gh=10, h=12,
       standoff=3)

# ---------------------------------------------------------------- html parts
strip = Div(width=FW, height=17, margin=(0, 0, 0, 0), text=(
    '<div style="position:relative;width:821px;height:17px;overflow:hidden;'
    'font-family:\'Liberation Sans\';font-size:8px;line-height:8px;color:#595959;">'
    '<div style="position:absolute;left:0;top:0;width:2px;height:17px;background:#000;"></div>'
    '<div style="position:absolute;left:416px;top:0;width:3px;height:17px;background:#000;"></div>'
    '<div style="position:absolute;right:0;top:0;width:2px;height:17px;background:#000;"></div>'
    '<div style="position:absolute;left:22px;top:3px;width:362px;height:1px;background:#D9D9D9;"></div>'
    '<div style="position:absolute;left:444px;top:3px;width:346px;height:1px;background:#D9D9D9;"></div>'
    '<div style="position:absolute;left:4px;top:12px;width:409px;height:1px;background:#E3E3E3;"></div>'
    '<div style="position:absolute;left:422px;top:12px;width:393px;height:1px;background:#E3E3E3;"></div>'
    '<span style="position:absolute;left:5px;top:0;">%s</span>'
    '<span style="position:absolute;left:389px;top:0;">%s</span>'
    '<span style="position:absolute;left:425px;top:0;">%s</span>'
    '<span style="position:absolute;left:793px;top:0;">%s</span></div>') % tuple(TOP_STRIP_LABELS))

footer = Div(width=FW, height=16, margin=(0, 0, 0, 0), text=(
    '<div style="width:821px;height:16px;box-sizing:border-box;background:#1F5D6B;'
    'border-top:1px solid #6DB5C0;color:#FFFFFF;font-family:\'Noto Sans CJK SC\';'
    'font-weight:bold;font-size:12px;line-height:15px;display:flex;'
    'justify-content:space-between;padding:0 6px;white-space:nowrap;letter-spacing:1px;">'
    + "".join("<span>%s</span>" % t for t in FOOTER_ITEMS) + "</div>"))

lines_html = "".join(
    '<div style="white-space:nowrap;text-align:justify;text-align-last:%s;">%s</div>'
    % ("justify" if i < len(DISCLAIMER_LINES) - 1 else "left", t)
    for i, t in enumerate(DISCLAIMER_LINES))
disc = Div(width=FW, height=113, margin=(0, 0, 0, 0), text=(
    '<div style="width:821px;height:113px;box-sizing:border-box;border:2px solid #000;'
    'border-top:none;padding:3px 5px 1px 5px;font-family:\'Noto Sans CJK SC\';font-size:10px;'
    'line-height:13.6px;color:#000;">'
    '<div>' + DISCLAIMER_HEAD + '</div>' + lines_html + '</div>'))

stack = column(strip, row(p1), row(p2), row(p3), row(p4), footer, disc, spacing=0)
layout = row(Spacer(width=52, height=10, margin=(0, 0, 0, 0)), stack, spacing=0)

open("out.html", "w").write(file_html(layout, INLINE))
